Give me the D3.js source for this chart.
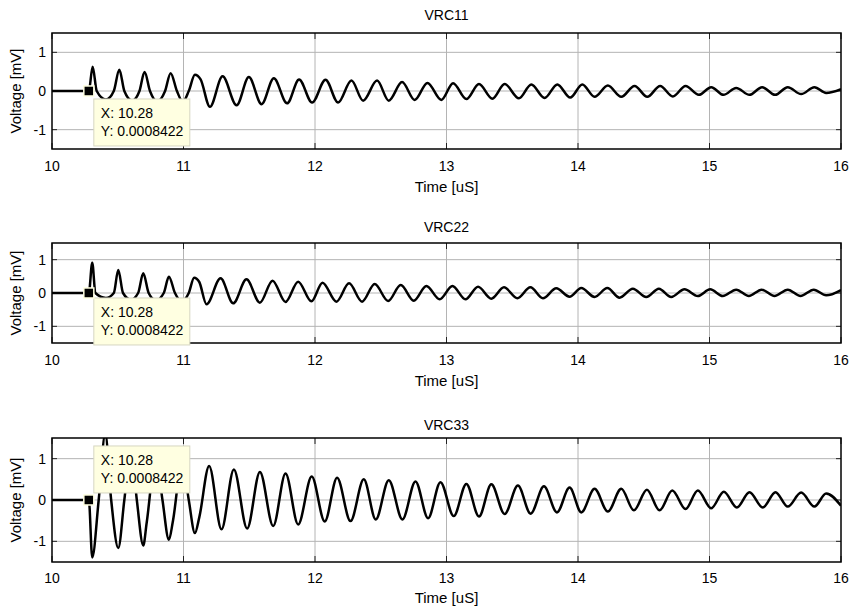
<!DOCTYPE html>
<html lang="en">
<head>
<meta charset="UTF-8">
<script src="https://d3js.org/d3.v7.min.js"></script>
<style>
body{
	margin: 0;
	background-color: white;
}
svg text{
	font-family: "Liberation Sans", Arial, sans-serif;
	font-weight: normal;
	fill: #000;
}
.grid line{
	stroke: #b4b4b4;
	stroke-width: 1;
}
.tip text{
	font-size: 14px;
}
</style>
</head>
<body>
<svg width="857" height="611"></svg>

<script>
// tick values / labels
const xTicks = [10, 11, 12, 13, 14, 15, 16]
const yTicks = [-1, 0, 1]
const titles = ["VRC11", "VRC22", "VRC33"]

// data tip
const tipX = 10.28
const tipY = 0.0008422

// waveforms, [time uS, voltage mV]
const vrc11 = [[10,0],[10.28,0.0008],[10.309,0.63],[10.34,0],[10.41,-0.22],[10.47,0],[10.512,0.55],[10.55,0],[10.61,-0.25],[10.665,0],[10.704,0.49],[10.745,0],[10.80,-0.27],[10.86,0],[10.902,0.46],[10.95,0],[10.995,-0.28],[11.04,0],[11.087,0.42],[11.13,0.30],[11.201,-0.41],[11.297,0.38],[11.404,-0.37],[11.497,0.36],[11.594,-0.34],[11.687,0.33],[11.788,-0.32],[11.879,0.30],[11.978,-0.30],[12.080,0.29],[12.176,-0.30],[12.277,0.27],[12.366,-0.25],[12.472,0.27],[12.561,-0.25],[12.662,0.23],[12.758,-0.23],[12.855,0.21],[12.961,-0.23],[13.050,0.20],[13.151,-0.21],[13.247,0.18],[13.349,-0.20],[13.442,0.18],[13.551,-0.19],[13.645,0.17],[13.746,-0.18],[13.843,0.17],[13.941,-0.17],[14.033,0.17],[14.126,-0.15],[14.227,0.14],[14.329,-0.15],[14.430,0.13],[14.527,-0.15],[14.625,0.13],[14.721,-0.14],[14.818,0.13],[14.919,-0.10],[15.013,0.10],[15.106,-0.10],[15.203,0.08],[15.304,-0.10],[15.400,0.10],[15.499,-0.10],[15.595,0.10],[15.697,-0.08],[15.798,0.10],[15.887,-0.05],[16,0.05]]

const vrc22 = [[10,0],[10.28,0.0008],[10.306,0.91],[10.33,0],[10.41,-0.15],[10.47,0],[10.504,0.69],[10.54,0],[10.60,-0.20],[10.655,0],[10.694,0.59],[10.735,0],[10.79,-0.22],[10.85,0],[10.889,0.49],[10.935,0],[10.985,-0.25],[11.04,0],[11.081,0.46],[11.12,0.33],[11.175,-0.34],[11.282,0.44],[11.378,-0.31],[11.479,0.41],[11.581,-0.29],[11.677,0.37],[11.776,-0.27],[11.872,0.34],[11.973,-0.25],[12.057,0.31],[12.163,-0.26],[12.259,0.29],[12.358,-0.26],[12.454,0.27],[12.556,-0.24],[12.652,0.24],[12.751,-0.23],[12.847,0.21],[12.948,-0.19],[13.045,0.21],[13.144,-0.19],[13.240,0.19],[13.341,-0.17],[13.437,0.17],[13.539,-0.16],[13.638,0.17],[13.733,-0.16],[13.835,0.14],[13.936,-0.11],[14.025,0.15],[14.126,-0.12],[14.223,0.15],[14.316,-0.14],[14.417,0.13],[14.519,-0.12],[14.615,0.13],[14.709,-0.12],[14.810,0.11],[14.911,-0.09],[15.005,0.11],[15.101,-0.09],[15.203,0.10],[15.299,-0.09],[15.397,0.10],[15.494,-0.09],[15.595,0.10],[15.692,-0.09],[15.793,0.10],[15.887,-0.07],[16,0.09]]

const vrc33 = [[10,0],[10.28,0.0008],[10.306,-1.39],[10.355,0],[10.405,1.6],[10.45,0],[10.504,-1.16],[10.55,0],[10.60,1.25],[10.645,0],[10.694,-1.10],[10.72,-0.55],[10.79,1.05],[10.84,0],[10.889,-0.96],[10.92,-0.50],[10.99,0.95],[11.04,0],[11.087,-0.80],[11.12,-0.42],[11.195,0.82],[11.289,-0.71],[11.383,0.74],[11.484,-0.69],[11.581,0.68],[11.682,-0.63],[11.776,0.64],[11.872,-0.59],[11.975,0.57],[12.074,-0.52],[12.168,0.54],[12.270,-0.51],[12.371,0.50],[12.462,-0.47],[12.561,0.48],[12.665,-0.47],[12.764,0.45],[12.860,-0.44],[12.954,0.43],[13.055,-0.39],[13.151,0.39],[13.247,-0.40],[13.341,0.38],[13.442,-0.34],[13.543,0.35],[13.640,-0.33],[13.741,0.33],[13.840,-0.30],[13.936,0.30],[14.025,-0.30],[14.126,0.27],[14.227,-0.28],[14.329,0.27],[14.425,-0.25],[14.524,0.25],[14.620,-0.25],[14.717,0.23],[14.818,-0.22],[14.911,0.23],[15.013,-0.20],[15.109,0.20],[15.208,-0.18],[15.304,0.19],[15.405,-0.18],[15.502,0.19],[15.595,-0.16],[15.697,0.18],[15.798,-0.16],[15.887,0.16],[16,-0.14]]

const series = [vrc11, vrc22, vrc33]

// panel layout (pixels)
const panels = [
	{top: 33, bottom: 149, titleY: 20, tickY: 171, labelY: 192, tipDy: 8},
	{top: 243, bottom: 343, titleY: 232, tickY: 365, labelY: 386, tipDy: 5},
	{top: 438, bottom: 562, titleY: 430, tickY: 583, labelY: 603, tipDy: -54}
]
const left = 52, right = 841

const svg = d3.select("svg")
svg.append("rect").attr("width", 857).attr("height", 611).style("fill", "white")

const x = d3.scaleLinear().domain([10, 16]).range([left, right])

panels.forEach(function(p, i) {
	const y = d3.scaleLinear().domain([-1.5, 1.5]).range([p.bottom, p.top])
	const g = svg.append("g").attr("class", "panel" + i)

	g.append("clipPath").attr("id", "clip" + i)
		.append("rect")
		.attr("x", left).attr("y", p.top)
		.attr("width", right - left).attr("height", p.bottom - p.top)

	// grid
	const grid = g.append("g").attr("class", "grid")
	grid.selectAll(".gx")
		.data(xTicks.slice(1, -1))
		.join("line")
		.attr("x1", d => x(d)).attr("x2", d => x(d))
		.attr("y1", p.top).attr("y2", p.bottom)
	grid.selectAll(".gy")
		.data(yTicks)
		.join("line")
		.attr("x1", left).attr("x2", right)
		.attr("y1", d => y(d)).attr("y2", d => y(d))

	// inner ticks on all four sides
	const ticks = g.append("g").style("stroke", "#222").style("stroke-width", 1)
	ticks.selectAll(".tb").data(xTicks).join("line")
		.attr("x1", d => x(d)).attr("x2", d => x(d))
		.attr("y1", p.bottom).attr("y2", p.bottom - 6)
	ticks.selectAll(".tt").data(xTicks).join("line")
		.attr("x1", d => x(d)).attr("x2", d => x(d))
		.attr("y1", p.top).attr("y2", p.top + 6)
	ticks.selectAll(".tl").data(yTicks).join("line")
		.attr("x1", left).attr("x2", left + 5)
		.attr("y1", d => y(d)).attr("y2", d => y(d))
	ticks.selectAll(".tr").data(yTicks).join("line")
		.attr("x1", right).attr("x2", right - 5)
		.attr("y1", d => y(d)).attr("y2", d => y(d))

	// waveform
	const line = d3.line()
		.x(d => x(d[0]))
		.y(d => y(d[1]))
		.curve(d3.curveMonotoneX)

	g.append("path")
		.datum(series[i])
		.attr("clip-path", "url(#clip" + i + ")")
		.attr("d", line)
		.style("fill", "none")
		.style("stroke", "#000")
		.style("stroke-width", 2.5)
		.style("stroke-linejoin", "round")

	// box
	g.append("rect")
		.attr("x", left).attr("y", p.top)
		.attr("width", right - left).attr("height", p.bottom - p.top)
		.style("fill", "none")
		.style("stroke", "#000")
		.style("stroke-width", 1.5)

	// tick labels
	g.selectAll(".xl").data(xTicks).join("text")
		.attr("x", d => x(d)).attr("y", p.tickY)
		.attr("text-anchor", "middle")
		.style("font-size", "14px")
		.text(d => d)
	g.selectAll(".yl").data(yTicks).join("text")
		.attr("x", left - 6).attr("y", d => y(d) + 5)
		.attr("text-anchor", "end")
		.style("font-size", "14px")
		.text(d => d === -1 ? "-1" : d)

	// title and axis labels
	g.append("text")
		.attr("x", (left + right) / 2).attr("y", p.titleY)
		.attr("text-anchor", "middle")
		.style("font-size", "14px")
		.text(titles[i])
	g.append("text")
		.attr("x", (left + right) / 2).attr("y", p.labelY)
		.attr("text-anchor", "middle")
		.style("font-size", "15px")
		.text("Time [uS]")
	g.append("text")
		.attr("transform", "translate(21," + ((p.top + p.bottom) / 2) + ") rotate(-90)")
		.attr("text-anchor", "middle")
		.style("font-size", "15px")
		.text("Voltage [mV]")

	// data tip
	const mx = x(tipX), my = y(tipY)
	const tip = g.append("g").attr("class", "tip")
	tip.append("rect")
		.attr("x", mx + 5).attr("y", my + p.tipDy)
		.attr("width", 96).attr("height", 47)
		.style("fill", "#ffffe1")
		.style("stroke", "#d6d6c2")
		.style("stroke-width", 1)
	tip.append("text")
		.attr("x", mx + 12).attr("y", my + p.tipDy + 19)
		.text("X: " + tipX)
	tip.append("text")
		.attr("x", mx + 12).attr("y", my + p.tipDy + 37)
		.text("Y: " + tipY)
	tip.append("rect")
		.attr("x", mx - 5).attr("y", my - 5)
		.attr("width", 10).attr("height", 10)
		.style("fill", "#000")
		.style("stroke", "#ffffe1")
		.style("stroke-width", 1.5)
})
</script>
</body>
</html>
